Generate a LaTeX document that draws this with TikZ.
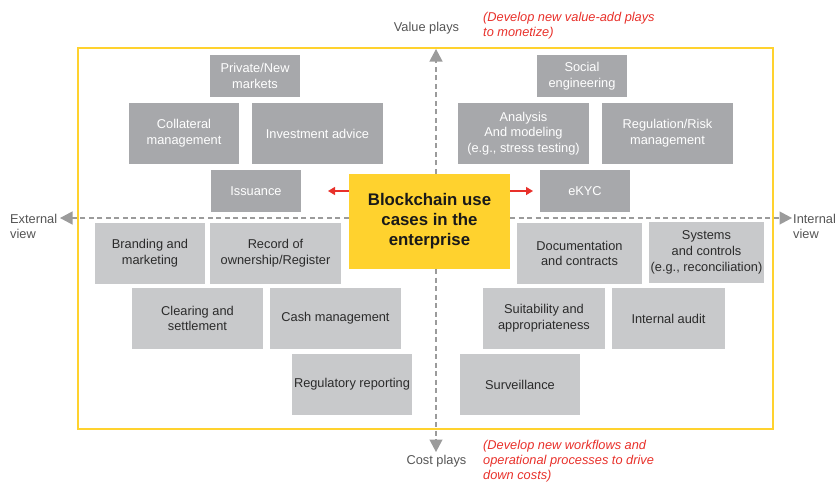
\documentclass[tikz,border=0pt]{standalone}
\usepackage{fontspec}
\setmainfont{Liberation Sans}
\usetikzlibrary{arrows.meta}
\definecolor{frameY}{HTML}{FFD22E}
\definecolor{boxDark}{HTML}{A7A8AB}
\definecolor{boxLight}{HTML}{C8C9CB}
\definecolor{axisG}{HTML}{9B9B9B}
\definecolor{redT}{HTML}{E8302A}
\definecolor{labelG}{HTML}{555555}
\definecolor{darkT}{HTML}{2B2B2B}
\begin{document}
\begin{tikzpicture}[x=1pt,y=-1pt,
  basebox/.style={rectangle, inner sep=0pt, align=center, font=\fontsize{12.8}{15.8}\selectfont},
  darkbox/.style={basebox, fill=boxDark, text=white},
  lightbox/.style={basebox, fill=boxLight, text=darkT},
  axisline/.style={draw=axisG, line width=1.2pt, dash pattern=on 5pt off 3.5pt, -{Triangle[length=12.5pt,width=13pt,fill=axisG]}},
  redarr/.style={draw=redT, line width=1.4pt, -{Triangle[length=7pt,width=8pt,fill=redT]}},
  axlabel/.style={font=\fontsize{12.8}{15.5}\selectfont, text=labelG, inner sep=0pt, align=left},
  redlabel/.style={font=\fontsize{12.8}{15}\selectfont\itshape, text=redT, inner sep=0pt, align=left}]
\useasboundingbox (0,0) rectangle (835,483);

% frame
\node[draw=frameY, line width=2.2pt, minimum width=695, minimum height=381, inner sep=0pt] (frame) at (425.5,238.5) {};

% axes coordinates
\coordinate (vtop) at (436,49);
\coordinate (vbot) at (436,452);
\coordinate (hleft) at (60,218);
\coordinate (hright) at (792,218);

% center node
\node[basebox, fill=frameY, text=black!90, minimum width=161, minimum height=95,
  font=\fontsize{16.8}{20}\selectfont\bfseries] (bc) at (429.5,221.5) {Blockchain use\\cases in the\\enterprise};

\draw[axisline] (bc.north -| vtop) -- (vtop);
\draw[axisline] (bc.south -| vbot) -- (vbot);
\draw[axisline] (bc.west |- hleft) -- (hleft);
\draw[axisline] (bc.east |- hright) -- (hright);

% top boxes
\node[darkbox, minimum width=90, minimum height=42] (pnm) at (255,76) {Private/New\\markets};
\node[darkbox, minimum width=110, minimum height=61] (coll) at (184,133.5) {Collateral\\management};
\node[darkbox, minimum width=131, minimum height=61] (inv) at (317.5,133.5) {Investment advice};
\node[darkbox, minimum width=90, minimum height=42] (iss) at (256,191) {Issuance};
\node[darkbox, minimum width=90, minimum height=42] (soc) at (582,76) {Social\\engineering};
\node[darkbox, minimum width=131, minimum height=61] (ana) at (523.5,133.5) {Analysis\\And modeling\\(e.g., stress testing)};
\node[darkbox, minimum width=131, minimum height=61] (reg) at (667.5,133.5) {Regulation/Risk\\management};
\node[darkbox, minimum width=90, minimum height=42] (ekyc) at (585,191) {eKYC};

% bottom boxes
\node[lightbox, minimum width=110, minimum height=61] (brand) at (150,253.5) {Branding and\\marketing};
\node[lightbox, minimum width=131, minimum height=61] (rec) at (275.5,253.5) {Record of\\ownership/Register};
\node[lightbox, minimum width=131, minimum height=61] (clear) at (197.5,318.5) {Clearing and\\settlement};
\node[lightbox, minimum width=131, minimum height=61] (cash) at (335.5,318.5) {Cash management};
\node[lightbox, minimum width=120, minimum height=61] (regrep) at (352,384.5) {Regulatory reporting};
\node[lightbox, minimum width=125, minimum height=61] (doc) at (579.5,253.5) {Documentation\\and contracts};
\node[lightbox, minimum width=115, minimum height=61] (sys) at (706.5,252.5) {Systems\\and controls\\(e.g., reconciliation)};
\node[lightbox, minimum width=122, minimum height=61] (suit) at (544,318.5) {Suitability and\\appropriateness};
\node[lightbox, minimum width=113, minimum height=61] (aud) at (668.5,318.5) {Internal audit};
\node[lightbox, minimum width=120, minimum height=61] (surv) at (520,384.5) {Surveillance};

% red arrows
\coordinate (ra) at (328,191);
\coordinate (rb) at (533,191);
\draw[redarr] (bc.west |- ra) -- (ra);
\draw[redarr] (bc.east |- rb) -- (rb);

% labels
\node[axlabel, anchor=center] (vlab) at (426.5,28) {Value plays};
\node[axlabel, anchor=center] (clab) at (436.5,461) {Cost plays};
\node[axlabel, anchor=west] (elab) at (10,226.5) {External\\view};
\node[axlabel, anchor=west] (ilab) at (793,226.5) {Internal\\view};
\node[redlabel, anchor=west] (rtop) at (483,25.5) {(Develop new value-add plays\\to monetize)};
\node[redlabel, anchor=west] (rbot) at (483,461) {(Develop new workflows and\\operational processes to drive\\down costs)};
\end{tikzpicture}
\end{document}
